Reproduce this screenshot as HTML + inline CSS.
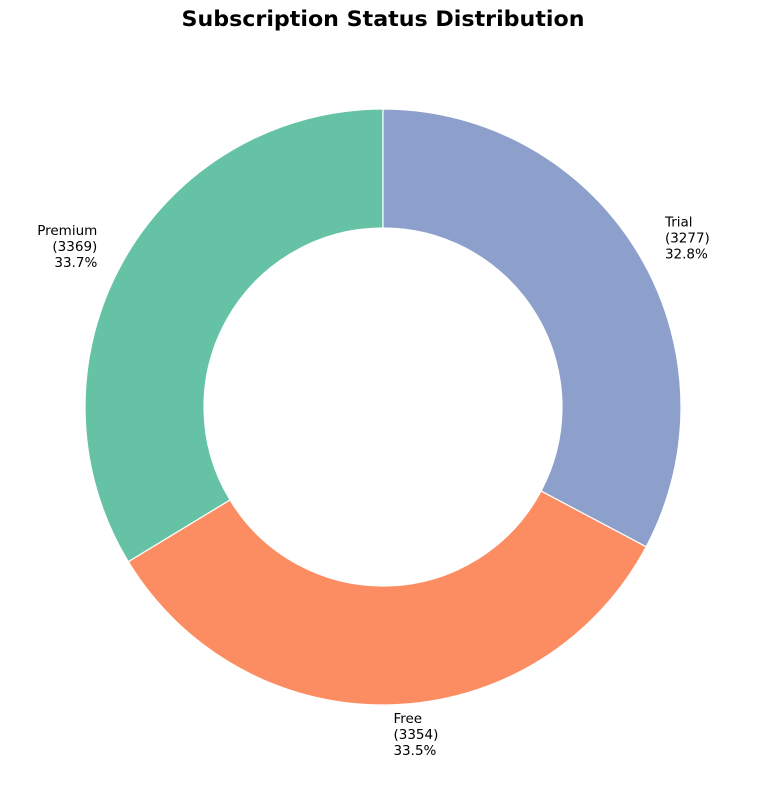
<!DOCTYPE html>
<html><head><meta charset="utf-8">
<style>
html,body{margin:0;padding:0;background:#fff;}
svg{display:block;font-family:"DejaVu Sans","Liberation Sans",sans-serif;}
</style></head>
<body>
<svg id="chart" width="765" height="790" viewBox="0 0 765 790">
  <text x="383" y="26" text-anchor="middle" font-weight="bold" font-size="21" textLength="403" lengthAdjust="spacingAndGlyphs">Subscription Status Distribution</text>
  <g id="slices"></g>
  <g id="labels"></g>
</svg>
<script>
const categories = ["Premium", "Free", "Trial"];
const counts = [3369, 3354, 3277];
const colors = ["#66c2a5", "#fc8d62", "#8da0cb"];

const cx = 383, cy = 407, R = 298, r = 179;
const NS = "http://www.w3.org/2000/svg";
const total = counts.reduce((a, b) => a + b, 0);
const sg = document.getElementById('slices');
const lg = document.getElementById('labels');
function pt(rad, deg) {
  const a = deg * Math.PI / 180;
  return [cx + rad * Math.cos(a), cy - rad * Math.sin(a)];
}
let start = 90;
counts.forEach((v, i) => {
  const sweep = v / total * 360;
  const end = start + sweep;
  const large = sweep > 180 ? 1 : 0;
  const [x1, y1] = pt(R, start), [x2, y2] = pt(R, end);
  const [x3, y3] = pt(r, end), [x4, y4] = pt(r, start);
  const p = document.createElementNS(NS, 'path');
  p.setAttribute('d', `M${x1},${y1} A${R},${R} 0 ${large} 0 ${x2},${y2} L${x3},${y3} A${r},${r} 0 ${large} 1 ${x4},${y4} Z`);
  p.setAttribute('fill', colors[i]);
  p.setAttribute('stroke', '#fff');
  p.setAttribute('stroke-width', '1.2');
  
  
  sg.appendChild(p);

  const mid = start + sweep / 2;
  const [lx, ly] = pt(R * 1.1, mid);
  const left = lx < cx;
  const t = document.createElementNS(NS, 'text');
  t.setAttribute('font-size', '13.5');
  t.setAttribute('text-anchor', left ? 'end' : 'start');
  
  
  const lines = [categories[i], '(' + v + ')', (v / total * 100).toFixed(1) + '%'];
  lines.forEach((s, j) => {
    const ts = document.createElementNS(NS, 'tspan');
    ts.setAttribute('x', left ? lx : lx + 1);
    ts.setAttribute('y', ly + (j - 1) * 16 + 4.5);
    ts.textContent = s;
    t.appendChild(ts);
  });
  lg.appendChild(t);
  start = end;
});
</script>
</body></html>
